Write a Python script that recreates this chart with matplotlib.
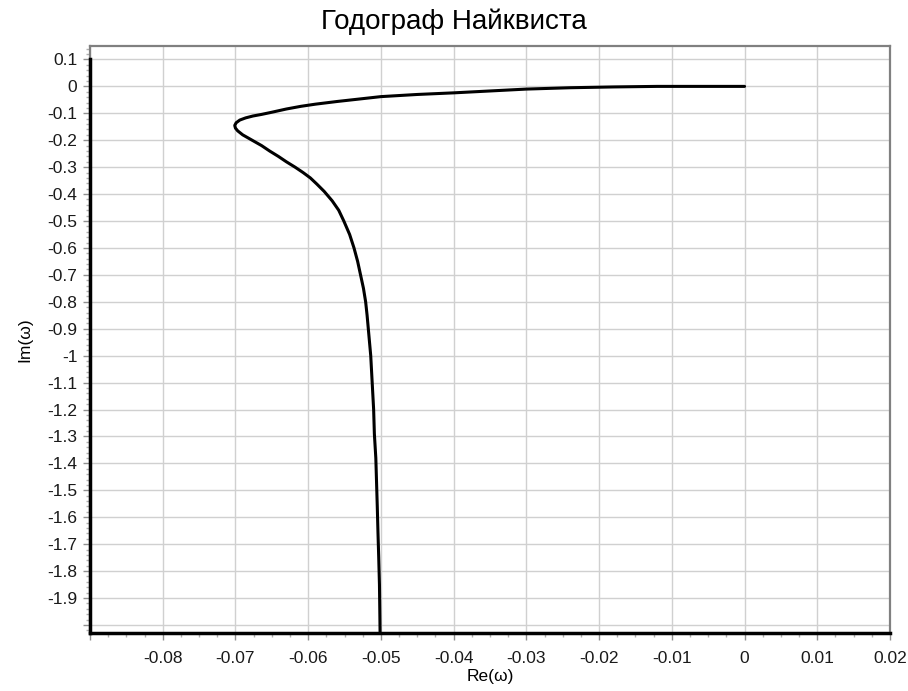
import numpy as np
import matplotlib
matplotlib.use("Agg")
import matplotlib.pyplot as plt
from matplotlib.ticker import MultipleLocator, FuncFormatter

plt.rcParams['font.family'] = ['Liberation Sans', 'DejaVu Sans']

# годограф: от низких частот (снизу) к началу координат
re_w = [-0.05010, -0.05015, -0.05020, -0.05030, -0.05040, -0.05050, -0.05060,
        -0.05070, -0.05090, -0.05100, -0.05120, -0.05140, -0.05170, -0.05190,
        -0.05210, -0.05240, -0.05280, -0.05320, -0.05370, -0.05430, -0.05510,
        -0.05580, -0.05670, -0.05780, -0.05880, -0.05970, -0.06070, -0.06180,
        -0.06300, -0.06410, -0.06530, -0.06640, -0.06770, -0.06900, -0.06970,
        -0.07000, -0.07010, -0.06990, -0.06940, -0.06860, -0.06760, -0.06640,
        -0.06500, -0.06300, -0.06100, -0.05900, -0.05600, -0.05300, -0.05000,
        -0.04500, -0.04000, -0.03500, -0.03000, -0.02400, -0.01800, -0.01200,
        -0.00600, 0.00000]
im_w = [-2.06, -1.95, -1.85, -1.75, -1.66, -1.56, -1.47,
        -1.38, -1.29, -1.20, -1.10, -1.00, -0.91, -0.85,
        -0.80, -0.75, -0.70, -0.65, -0.60, -0.55, -0.50,
        -0.46, -0.425, -0.39, -0.363, -0.34, -0.32, -0.30,
        -0.28, -0.26, -0.24, -0.22, -0.20, -0.18, -0.165,
        -0.155, -0.145, -0.135, -0.125, -0.117, -0.110, -0.104,
        -0.096, -0.084, -0.074, -0.066, -0.056, -0.047, -0.038,
        -0.030, -0.024, -0.017, -0.010, -0.005, -0.002, 0.000,
        0.000, 0.000]

x_lim = (-0.09, 0.02)
y_lim = (-2.03, 0.15)

fig = plt.figure(figsize=(9.08, 6.91), dpi=100)
ax = fig.add_axes([90 / 908, 1 - 633 / 691, 800 / 908, 587 / 691])

ax.plot(re_w, im_w, color='black', lw=2.2, solid_joinstyle='round',
        solid_capstyle='round', zorder=3)

ax.set_xlim(*x_lim)
ax.set_ylim(*y_lim)

ax.xaxis.set_major_locator(MultipleLocator(0.01))
ax.xaxis.set_minor_locator(MultipleLocator(0.0025))
ax.yaxis.set_major_locator(MultipleLocator(0.1))
ax.yaxis.set_minor_locator(MultipleLocator(0.02))

def fmt(v, pos):
    s = '%g' % round(v, 6)
    return '0' if s in ('-0', '0') else s

def xfmt(v, pos):
    if v < -0.0851:
        return ''
    return fmt(v, pos)

def yfmt(v, pos):
    if v < -1.95 or v > 0.11:
        return ''
    return fmt(v, pos)

ax.xaxis.set_major_formatter(FuncFormatter(xfmt))
ax.yaxis.set_major_formatter(FuncFormatter(yfmt))

ax.grid(True, which='major', color='#d0d0d0', lw=1.0, zorder=0)
ax.tick_params(which='major', length=5, width=1, color='#909090',
               labelsize=12.5, pad=4, labelcolor='#1a1a1a')
ax.tick_params(which='minor', length=3, width=1, color='#b0b0b0')
ax.tick_params(axis='x', which='major', pad=8)

for side in ('top', 'right', 'left'):
    ax.spines[side].set_color('#808080')
    ax.spines[side].set_linewidth(1.6)
ax.spines['bottom'].set_color('black')
ax.spines['bottom'].set_linewidth(2.5)

# чёрная линия оси ординат до отметки 0.1
frac = (0.1 - y_lim[0]) / (y_lim[1] - y_lim[0])
ax.axvline(x_lim[0], ymin=0, ymax=frac, color='black', lw=2.5, clip_on=False, zorder=4)

ax.set_xlabel('Re(ω)', fontsize=12.5, labelpad=2)
ax.set_ylabel('Im(ω)', fontsize=12.5, labelpad=11)
fig.text(0.5, 1 - 22 / 691, 'Годограф Найквиста', fontsize=20,
         ha='center', va='center')

fig.savefig('out.png', dpi=100, facecolor='white')
